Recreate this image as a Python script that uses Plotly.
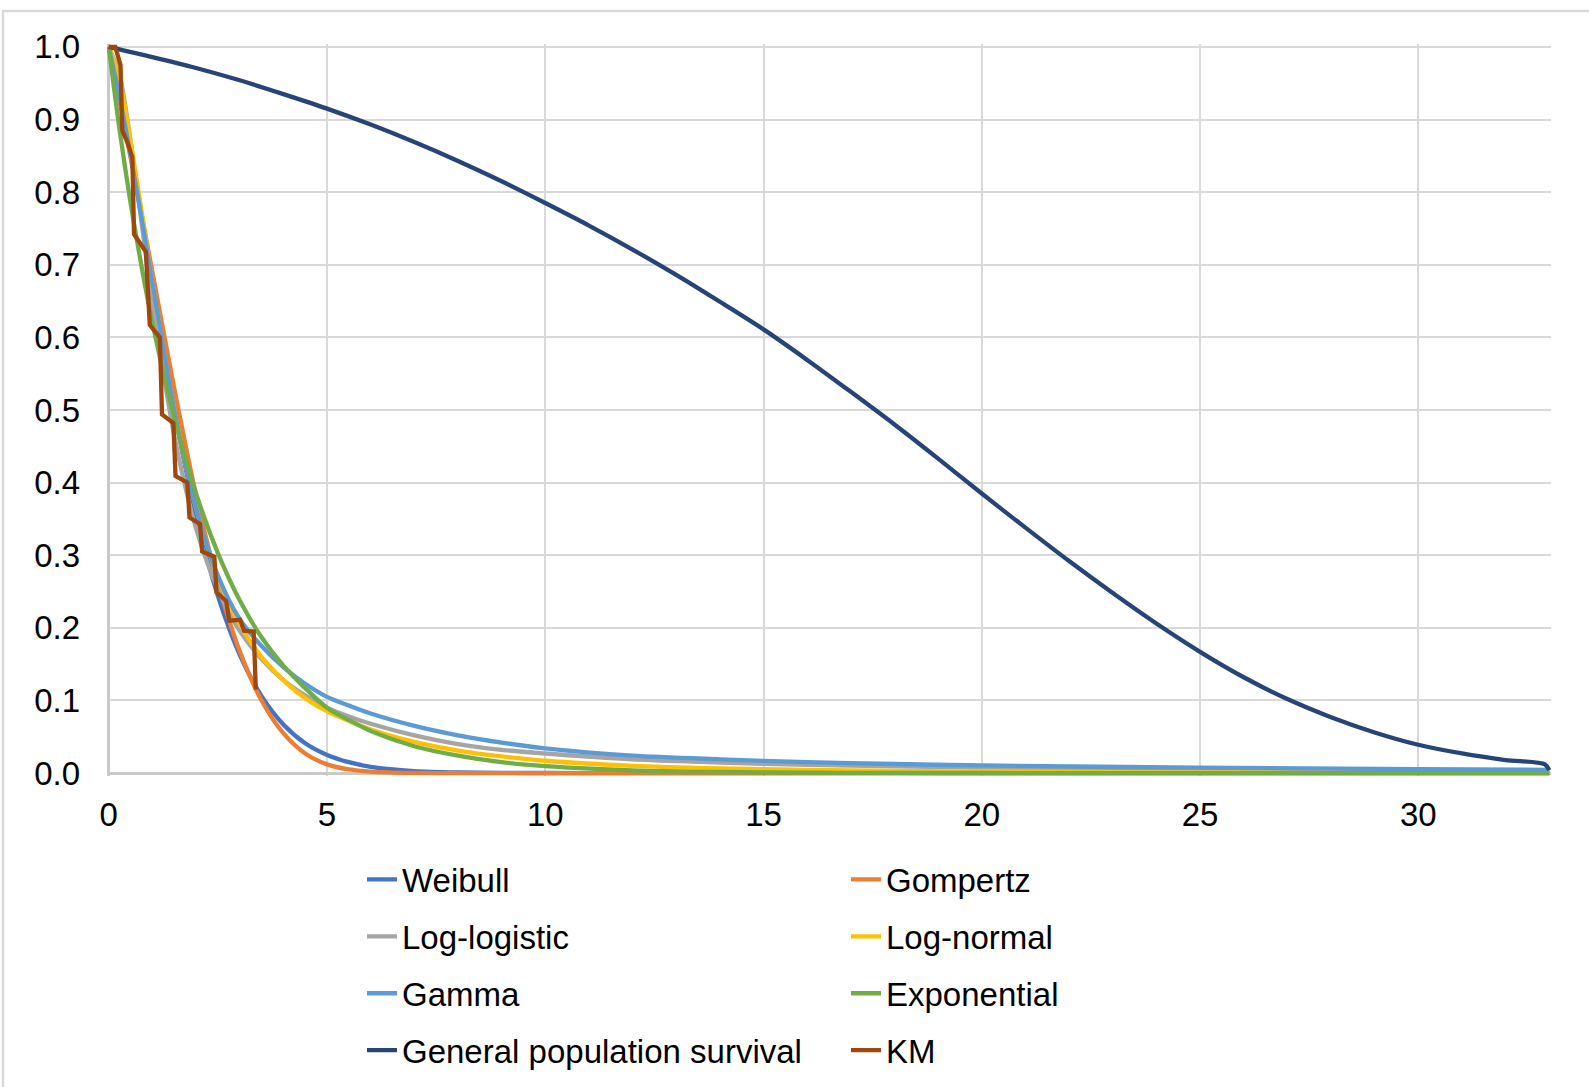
import plotly.graph_objects as go

# Time grid (years) for the fitted parametric survival curves
t_fit = [0, 0.25, 0.5, 0.75, 1, 1.5, 2, 2.5, 3, 3.5, 4, 4.5, 5, 5.5, 6, 7, 8, 9, 10,
         12, 14, 16, 18, 20, 25, 30, 33]

weibull = [1.0, 0.944, 0.859, 0.766, 0.672, 0.499, 0.355, 0.244, 0.163, 0.106, 0.067,
           0.041, 0.025, 0.015, 0.0087, 0.0028, 0.0009, 0.0003, 0.0001, 0, 0, 0, 0, 0,
           0, 0, 0]
gompertz = [1.0, 0.925, 0.848, 0.770, 0.690, 0.530, 0.383, 0.262, 0.168, 0.100, 0.055,
            0.027, 0.012, 0.005, 0.002, 0.0002, 0, 0, 0, 0, 0, 0, 0, 0, 0, 0, 0]
log_logistic = [1.0, 0.961, 0.870, 0.759, 0.649, 0.465, 0.337, 0.253, 0.196, 0.157,
                0.128, 0.107, 0.090, 0.078, 0.068, 0.052, 0.040, 0.032, 0.027, 0.019,
                0.0145, 0.0115, 0.0093, 0.0077, 0.0052, 0.0038, 0.0032]
log_normal = [1.0, 0.955, 0.870, 0.775, 0.675, 0.500, 0.365, 0.270, 0.205, 0.160, 0.128,
              0.103, 0.085, 0.072, 0.060, 0.043, 0.031, 0.023, 0.017, 0.010, 0.0065,
              0.0043, 0.003, 0.0021, 0.001, 0.0005, 0.0004]
gamma = [1.0, 0.930, 0.850, 0.765, 0.675, 0.500, 0.365, 0.272, 0.212, 0.175, 0.146,
         0.123, 0.105, 0.093, 0.082, 0.065, 0.052, 0.042, 0.034, 0.024, 0.019, 0.015,
         0.0125, 0.0105, 0.0075, 0.0055, 0.0045]
exponential = [1.0, 0.885, 0.785, 0.698, 0.620, 0.490, 0.385, 0.303, 0.238, 0.187,
               0.148, 0.117, 0.090, 0.073, 0.058, 0.037, 0.024, 0.015, 0.0095, 0.0037,
               0.0015, 0.0006, 0.0002, 0.0001, 0, 0, 0]

# General population survival
t_gen = [0, 1, 2, 3, 4, 5, 6, 7, 8, 9, 10, 11, 12, 13, 14, 15, 16, 17, 18, 19, 20,
         21, 22, 23, 24, 25, 26, 27, 28, 29, 30, 31, 32, 32.9, 33]
general_pop = [1.0, 0.986, 0.971, 0.954, 0.935, 0.915, 0.893, 0.869, 0.843, 0.815,
               0.785, 0.754, 0.721, 0.686, 0.649, 0.611, 0.569, 0.525, 0.480, 0.433,
               0.385, 0.338, 0.292, 0.248, 0.206, 0.167, 0.132, 0.102, 0.077, 0.056,
               0.039, 0.027, 0.018, 0.012, 0.004]

# Kaplan-Meier estimate
t_km = [0, 0.15, 0.27, 0.31, 0.43, 0.54, 0.58, 0.73, 0.85, 0.94, 1.17, 1.22, 1.48,
        1.53, 1.80, 1.85, 2.09, 2.14, 2.42, 2.47, 2.69, 2.76, 3.01, 3.10, 3.32, 3.37]
km = [1.0, 1.0, 0.975, 0.885, 0.868, 0.848, 0.742, 0.728, 0.718, 0.617, 0.600, 0.494,
      0.482, 0.409, 0.400, 0.352, 0.343, 0.305, 0.298, 0.249, 0.237, 0.210, 0.211,
      0.196, 0.195, 0.115]

x_ticks = [0, 5, 10, 15, 20, 25, 30]
y_ticks = [0.0, 0.1, 0.2, 0.3, 0.4, 0.5, 0.6, 0.7, 0.8, 0.9, 1.0]

series = [
    ("Weibull", t_fit, weibull, "#4472C4", "legend", "spline"),
    ("Gompertz", t_fit, gompertz, "#ED7D31", "legend2", "spline"),
    ("Log-logistic", t_fit, log_logistic, "#A5A5A5", "legend", "spline"),
    ("Log-normal", t_fit, log_normal, "#FFC000", "legend2", "spline"),
    ("Gamma", t_fit, gamma, "#5B9BD5", "legend", "spline"),
    ("Exponential", t_fit, exponential, "#70AD47", "legend2", "spline"),
    ("General population survival", t_gen, general_pop, "#264478", "legend", "spline"),
    ("KM", t_km, km, "#9E480E", "legend2", "linear"),
]

FONT = "Arial, 'Liberation Sans', sans-serif"

fig = go.Figure()
for name, xs, ys, color, leg, shape in series:
    line = dict(color=color, width=4.3, shape=shape)
    if shape == "spline":
        line["smoothing"] = 0.8
    fig.add_trace(go.Scatter(x=xs, y=ys, mode="lines", name=name, line=line,
                             legend=leg, legendgroup=name))

W, H = 1589, 1087
L, R, T, B = 107, 38, 44, 311
pw, ph = W - L - R, H - T - B


def px_x(p):
    return (p - L) / pw


def px_y(p):
    return (H - B - p) / ph


# Two legend columns placed in figure (container) coordinates
legend_common = dict(
    orientation="v", yanchor="top", xanchor="left",
    xref="container", yref="container",
    font=dict(family=FONT, size=33, color="black"),
    bgcolor="rgba(0,0,0,0)", tracegroupgap=11,
)

fig.update_layout(
    width=W, height=H,
    margin=dict(l=L, r=R, t=T, b=B, autoexpand=False),
    paper_bgcolor="white", plot_bgcolor="white",
    font=dict(family=FONT, color="black"),
    showlegend=True,
    legend=dict(x=362 / W, y=1 - 851.5 / H, **legend_common),
    legend2=dict(x=846 / W, y=1 - 851.5 / H, **legend_common),
    xaxis=dict(
        range=[-0.04, 33.04], tickvals=x_ticks, showgrid=True,
        gridcolor="#D9D9D9", gridwidth=2, zeroline=True, zerolinecolor="#C9C9C9",
        zerolinewidth=2.5, showline=False, ticks="",
        tickfont=dict(family=FONT, size=33, color="black"), ticklabelstandoff=16,
    ),
    yaxis=dict(
        range=[-0.004, 1.004], tickvals=y_ticks, tickformat=".1f", showgrid=True,
        gridcolor="#D9D9D9", gridwidth=2, zeroline=True, zerolinecolor="#C9C9C9",
        zerolinewidth=2.5, showline=False, ticks="",
        tickfont=dict(family=FONT, size=33, color="black"), ticklabelstandoff=26,
    ),
    shapes=[dict(
        type="rect", xref="paper", yref="paper",
        x0=px_x(3), x1=px_x(W + 20), y0=px_y(11), y1=px_y(H + 20),
        line=dict(color="#D9D9D9", width=2.5), fillcolor="rgba(0,0,0,0)", layer="below",
    )],
)

fig.write_html("out.html")
